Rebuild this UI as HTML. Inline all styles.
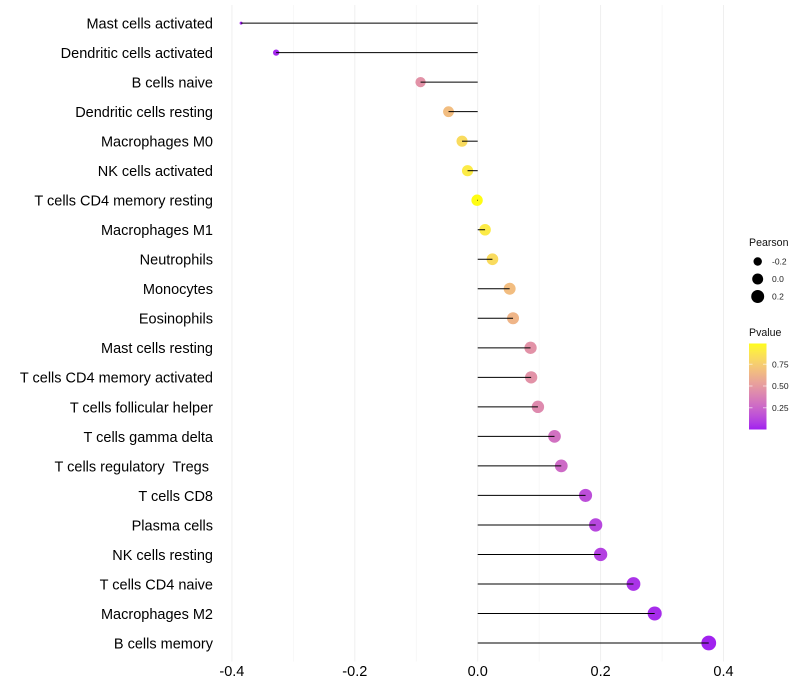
<!DOCTYPE html>
<html lang="en">
<head>
<meta charset="utf-8">
<title>Immune cell correlation lollipop chart</title>
<style>
html,body{margin:0;padding:0;background:#fff;width:800px;height:700px;overflow:hidden}
svg{display:block;font-family:"Liberation Sans",Arial,sans-serif}
</style>
</head>
<body>
<svg id="chart" width="800" height="700" viewBox="0 0 800 700" xmlns="http://www.w3.org/2000/svg"></svg>
<script>
const categories = ["Mast cells activated","Dendritic cells activated","B cells naive","Dendritic cells resting","Macrophages M0","NK cells activated","T cells CD4 memory resting","Macrophages M1","Neutrophils","Monocytes","Eosinophils","Mast cells resting","T cells CD4 memory activated","T cells follicular helper","T cells gamma delta","T cells regulatory  Tregs ","T cells CD8","Plasma cells","NK cells resting","T cells CD4 naive","Macrophages M2","B cells memory"];
const pearson = [-0.385,-0.328,-0.093,-0.0475,-0.0255,-0.0165,-0.001,0.012,0.024,0.052,0.0575,0.086,0.087,0.098,0.125,0.136,0.1755,0.192,0.2,0.2535,0.288,0.376];
const pvalue = [0.01,0.02,0.46,0.67,0.82,0.9,0.99,0.9,0.82,0.67,0.63,0.46,0.46,0.42,0.3,0.27,0.15,0.12,0.1,0.05,0.03,0.005];
const majorTicks = [-0.4,-0.2,0,0.2,0.4];
const minorTicks = [-0.3,-0.1,0.1,0.3];
const majorTickLabels = ["-0.4","-0.2","0.0","0.2","0.4"];
const sizeLegendValues = [-0.2,0,0.2];
const sizeLegendLabels = ["-0.2","0.0","0.2"];
const colorLegendValues = [0.75,0.5,0.25];
const colorLegendLabels = ["0.75","0.50","0.25"];

const NS = "http://www.w3.org/2000/svg";
const svg = document.getElementById("chart");

function xScale(v){ return 477.7 + v * 614.5; }
function yScale(i){ return 23.1 + i * 29.52; }
function pScale(p){ return 429.5 - p * 87; }
function rScale(v){
  const t = Math.max(0, (v - (-0.385)) / 0.761);
  return 1.5 + 5.9 * Math.sqrt(t);
}
function toLin(c){ c/=255; return c>0.04045?Math.pow((c+0.055)/1.055,2.4):c/12.92; }
function fromLin(c){ const v=c>0.0031308?1.055*Math.pow(c,1/2.4)-0.055:12.92*c; return Math.round(Math.min(1,Math.max(0,v))*255); }
function f(t){ return t>0.008856?Math.cbrt(t):7.787*t+16/116; }
function fi(t){ return t>0.206893?t*t*t:(t-16/116)/7.787; }
function rgb2lab(r,g,b){
  const R=toLin(r),G=toLin(g),B=toLin(b);
  const X=(0.4124*R+0.3576*G+0.1805*B)/0.95047,Y=0.2126*R+0.7152*G+0.0722*B,Z=(0.0193*R+0.1192*G+0.9505*B)/1.08883;
  return [116*f(Y)-16,500*(f(X)-f(Y)),200*(f(Y)-f(Z))];
}
function lab2rgb(L,a,b){
  const y=(L+16)/116,X=fi(a/500+y)*0.95047,Y=fi(y),Z=fi(y-b/200)*1.08883;
  return [fromLin(3.2406*X-1.5372*Y-0.4986*Z),fromLin(-0.9689*X+1.8758*Y+0.0415*Z),fromLin(0.0557*X-0.204*Y+1.057*Z)];
}
const labLow = rgb2lab(160,32,240);
const labHigh = rgb2lab(255,255,0);
function colorScale(p){
  const c = lab2rgb(labLow[0]+(labHigh[0]-labLow[0])*p, labLow[1]+(labHigh[1]-labLow[1])*p, labLow[2]+(labHigh[2]-labLow[2])*p);
  return "rgb("+c[0]+","+c[1]+","+c[2]+")";
}
function make(tag, attrs, parent){
  const el = document.createElementNS(NS, tag);
  for (const k in attrs) el.setAttribute(k, attrs[k]);
  (parent || svg).appendChild(el);
  return el;
}

minorTicks.forEach(function(v){
  const el = make("line",{x1:xScale(v),x2:xScale(v),y1:5,y2:661.5,stroke:"#f4f4f4","stroke-width":0.7});
  
  
});
majorTicks.forEach(function(v){
  const el = make("line",{x1:xScale(v),x2:xScale(v),y1:5,y2:661.5,stroke:"#efefef","stroke-width":1});
  
  
});

categories.forEach(function(name,i){
  const label = make("text",{x:213,y:yScale(i)+5.4,"text-anchor":"end","font-size":14.5,fill:"#000"});
  label.style.whiteSpace = "pre";
  label.textContent = name;
  
  

  const dot = make("circle",{cx:xScale(pearson[i]),cy:yScale(i),r:rScale(pearson[i]),fill:colorScale(pvalue[i])});
  
  

  const stem = make("line",{x1:xScale(0),x2:xScale(pearson[i]),y1:yScale(i),y2:yScale(i),stroke:"#000","stroke-width":1});
  
  
});

majorTicks.forEach(function(v,i){
  const t = make("text",{x:xScale(v),y:676,"text-anchor":"middle","font-size":14.5,fill:"#000"});
  t.textContent = majorTickLabels[i];
  
  
});

const sizeTitle = make("text",{x:749,y:246,"font-size":10.6,fill:"#111"});
sizeTitle.textContent = "Pearson";



sizeLegendValues.forEach(function(v,i){
  const cy = 261.5 + i * 17.5;
  const c = make("circle",{cx:757.7,cy:cy,r:rScale(v)-0.2,fill:"#000"});
  
  
  const t = make("text",{x:772,y:cy+3,"font-size":8.5,fill:"#222"});
  t.textContent = sizeLegendLabels[i];
  
  
});

const colorTitle = make("text",{x:749,y:336,"font-size":10.6,fill:"#111"});
colorTitle.textContent = "Pvalue";



const defs = make("defs",{});
const grad = make("linearGradient",{id:"pGrad",x1:0,x2:0,y1:0,y2:1},defs);
for (let s = 0; s <= 20; s++) {
  make("stop",{offset:(s/20),"stop-color":colorScale(0.985*(1-s/20))},grad);
}
const bar = make("rect",{x:749,y:343.5,width:17.5,height:86,fill:"url(#pGrad)"});



colorLegendValues.forEach(function(p,i){
  const y = pScale(p);
  const a = make("line",{x1:749,x2:752.5,y1:y,y2:y,stroke:"#fff","stroke-opacity":0.6,"stroke-width":1});
  
  
  const b = make("line",{x1:763,x2:766.5,y1:y,y2:y,stroke:"#fff","stroke-opacity":0.6,"stroke-width":1});
  
  
  const t = make("text",{x:772,y:y+3,"font-size":8.5,fill:"#222"});
  t.textContent = colorLegendLabels[i];
  
  
});
</script>
</body>
</html>
